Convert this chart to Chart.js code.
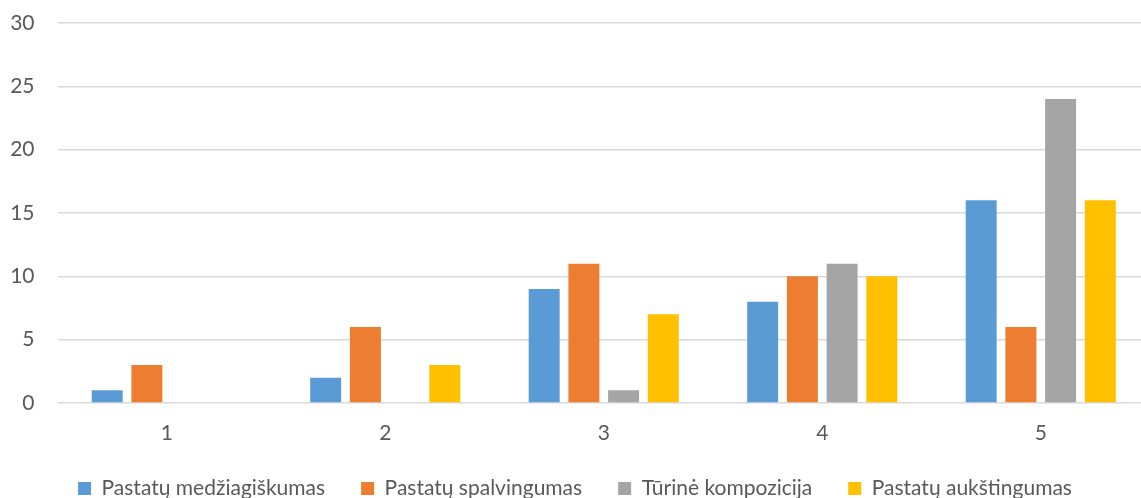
<!DOCTYPE html>
<html>
<head>
<meta charset="utf-8">
<script src="https://cdn.jsdelivr.net/npm/chart.js@4"></script>
<style>
    html, body { margin: 0; padding: 0; background: #fff; overflow: hidden; }
    #wrap { width: 1150px; height: 509px; position: relative; }
</style>
</head>
<body>
<div id="wrap"><canvas id="chart"></canvas></div>
<script>
// Categories and series values
const categories = ['1', '2', '3', '4', '5'];
const seriesNames = ['Pastatų medžiagiškumas', 'Pastatų spalvingumas', 'Tūrinė kompozicija', 'Pastatų aukštingumas'];
const medziagiskumas = [1, 2, 9, 8, 16];
const spalvingumas = [3, 6, 11, 10, 6];
const kompozicija = [0, 0, 1, 11, 24];
const aukstingumas = [0, 3, 7, 10, 16];
const seriesColors = ['#5B9BD5', '#ED7D31', '#A5A5A5', '#FFC000'];

const FONT = "Lato, 'Noto Sans', sans-serif";
const TEXT = '#595959';

const datasets = [medziagiskumas, spalvingumas, kompozicija, aukstingumas].map((vals, i) => ({
    label: seriesNames[i],
    data: vals,
    backgroundColor: seriesColors[i],
    borderWidth: 0,
    categoryPercentage: 0.727,
    barPercentage: 0.78
}));

new Chart(document.getElementById('chart'), {
    type: 'bar',
    data: { labels: categories, datasets: datasets },
    options: {
        responsive: true,
        maintainAspectRatio: false,
        animation: false,
        layout: { padding: 0 },
        plugins: {
            legend: {
                position: 'bottom',
                labels: {
                    boxWidth: 13,
                    boxHeight: 13,
                    padding: 36,
                    color: TEXT,
                    font: { family: FONT, size: 21 }
                }
            },
            tooltip: { enabled: false }
        },
        scales: {
            x: {
                afterFit: (scale) => { scale.height = 39; },
                grid: { display: false, drawTicks: false },
                border: { display: false },
                ticks: { color: TEXT, padding: 18, font: { family: FONT, size: 21 } }
            },
            y: {
                min: 0,
                max: 30,
                // fixed axis width, and keep the plot top near the 30 gridline of the original
                afterFit: (scale) => {
                    scale.width = 57.5;
                    scale.paddingTop = 23;
                    scale.paddingBottom = 0;
                },
                grid: { color: '#d9d9d9', lineWidth: 1.5, drawTicks: false },
                border: { display: false },
                ticks: { stepSize: 5, color: TEXT, padding: 23, font: { family: FONT, size: 21 } }
            }
        }
    }
});
</script>
</body>
</html>
